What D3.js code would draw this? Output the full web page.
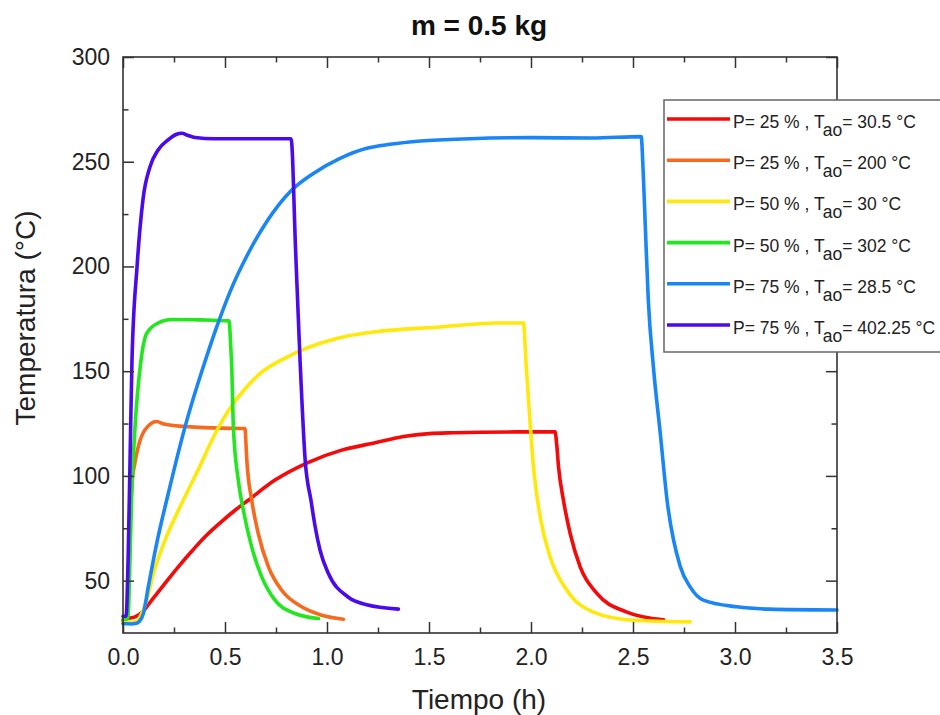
<!DOCTYPE html>
<html>
<head>
<meta charset="utf-8">
<script src="https://cdn.jsdelivr.net/npm/d3@7"></script>
<style>
  body { margin: 0; background: #fff; }
  svg { font-family: "Liberation Sans", Arial, sans-serif; }
</style>
</head>
<body>
<div id="chart"></div>
<script>
// time (h) / temperature (°C), one pair of arrays per run
var redT = [0, 0.03, 0.059, 0.1, 0.141, 0.2, 0.271, 0.337, 0.402, 0.475, 0.549, 0.614, 0.745, 0.909, 1.072, 1.236, 1.375, 1.5, 1.62, 1.93, 2.118, 2.126, 2.135, 2.159, 2.192, 2.241, 2.323, 2.47, 2.65];
var redY = [31, 32, 32.7, 35.5, 40.7, 48, 56.6, 64, 70.9, 77.5, 83.6, 88.4, 98, 106.5, 112.3, 115.8, 118.8, 120.2, 120.6, 121, 121, 115, 104.3, 88.4, 72.5, 56.6, 43.9, 35, 31.3];

var orangeT = [0, 0.02, 0.03, 0.036, 0.043, 0.058, 0.075, 0.108, 0.165, 0.2, 0.239, 0.35, 0.48, 0.598, 0.603, 0.607, 0.631, 0.663, 0.713, 0.778, 0.876, 0.974, 1.08];
var orangeY = [31, 32, 55, 80, 95, 106, 114, 122, 126, 124.8, 124.2, 123.3, 122.8, 122.6, 115, 107.5, 88.4, 72.5, 56.6, 45.4, 37.5, 33.5, 31.6];

var yellowT = [0, 0.06, 0.085, 0.116, 0.149, 0.206, 0.288, 0.369, 0.451, 0.533, 0.598, 0.68, 0.78, 0.9, 1.0, 1.1, 1.236, 1.538, 1.833, 1.963, 1.975, 1.988, 2.012, 2.045, 2.094, 2.176, 2.306, 2.502, 2.78];
var yellowY = [30, 30.2, 33, 40.7, 53.4, 69.3, 86.9, 103, 120, 133.5, 141.5, 149.5, 155.5, 161, 164.3, 166.8, 168.8, 171, 173, 173, 155, 136, 104.3, 80.4, 61.3, 45.4, 35, 31.1, 30.3];

var greenT = [0, 0.025, 0.03, 0.034, 0.043, 0.059, 0.088, 0.116, 0.172, 0.239, 0.378, 0.52, 0.528, 0.533, 0.541, 0.565, 0.59, 0.631, 0.68, 0.745, 0.843, 0.958];
var greenY = [31.5, 32, 45, 59.8, 91.8, 123.4, 155, 168, 173, 174.7, 174.5, 174, 162, 152, 123.4, 98, 83.6, 66, 51.8, 40.7, 34.3, 31.9];

var blueT = [0, 0.04, 0.06, 0.08, 0.1, 0.124, 0.165, 0.222, 0.304, 0.41, 0.459, 0.525, 0.607, 0.705, 0.819, 0.933, 1.064, 1.195, 1.309, 1.46, 1.7, 2.0, 2.3, 2.54, 2.55, 2.56, 2.575, 2.6, 2.634, 2.667, 2.732, 2.78, 2.845, 3.01, 3.17, 3.5];
var blueY = [29.5, 29.3, 29.5, 30.5, 34.3, 47, 67.7, 91.6, 123.4, 157, 171, 188, 205, 221.5, 235.7, 244.4, 251.6, 256.4, 258.3, 259.9, 261, 261.5, 261.3, 262, 245, 220, 184, 152, 120, 88.4, 56.6, 47, 40.7, 37.5, 36.4, 36];

var purpleT = [0, 0.015, 0.025, 0.035, 0.044, 0.069, 0.098, 0.132, 0.172, 0.221, 0.26, 0.288, 0.32, 0.353, 0.45, 0.6, 0.75, 0.824, 0.846, 0.868, 0.893, 0.922, 0.942, 0.966, 1.007, 1.103, 1.195, 1.35];
var purpleY = [33, 33, 60, 110, 155, 200, 232, 247.5, 255.6, 260.4, 263, 263.6, 262.5, 261.6, 261, 261, 261, 261, 208, 155, 107.5, 88, 75.7, 64.5, 53.4, 42.2, 38.5, 36.4];

var seriesPower = ["25", "25", "50", "50", "75", "75"];
var seriesTao = ["30.5", "200", "30", "302", "28.5", "402.25"];
var seriesColors = ["#f50a0a", "#f7691c", "#ffe80a", "#22e61e", "#1a86f5", "#4a0aec"];
var seriesTimes = [redT, orangeT, yellowT, greenT, blueT, purpleT];
var seriesTemps = [redY, orangeY, yellowY, greenY, blueY, purpleY];

var xMajor = [0, 0.5, 1, 1.5, 2, 2.5, 3, 3.5];
var xMinor = [0.25, 0.75, 1.25, 1.75, 2.25, 2.75, 3.25];
var yMajor = [50, 100, 150, 200, 250, 300];
var yMinor = [75, 125, 175, 225, 275];

(function() {
  var W = 940, H = 715;
  var pl = 123, pr = 837, pt = 57, pb = 633;

  var svg = d3.select("#chart").append("svg")
    .attr("width", W).attr("height", H);

  var x = d3.scaleLinear().domain([0, 3.5]).range([pl, pr]);
  var y = d3.scaleLinear().domain([25, 300]).range([pb, pt]);

  // curves first, frame on top
  var line = d3.line()
    .x(function(d) { return x(d[0]); })
    .y(function(d) { return y(d[1]); })
    .curve(d3.curveMonotoneX);

  var plot = svg.append("g");
  seriesTimes.forEach(function(ts, i) {
    var pts = ts.map(function(t, j) { return [t, seriesTemps[i][j]]; });
    plot.append("path")
      .datum(pts)
      .attr("d", line)
      .attr("fill", "none")
      .attr("stroke", seriesColors[i])
      .attr("stroke-width", 3.6)
      .attr("stroke-linejoin", "round")
      .attr("stroke-linecap", "round");
  });

  function styleAxis(g) {
    g.select(".domain").remove();
    g.selectAll(".tick line").attr("stroke", "#333").attr("stroke-width", 1.5);
    g.selectAll("text").attr("fill", "#222").style("font-size", "23px")
      .style("font-family", "Liberation Sans, Arial, sans-serif");
  }

  // bottom
  svg.append("g").attr("transform", "translate(0," + pb + ")")
    .call(d3.axisBottom(x).tickValues(xMajor).tickSize(-11).tickPadding(16).tickFormat(d3.format(".1f")))
    .call(styleAxis);
  svg.append("g").attr("transform", "translate(0," + pb + ")")
    .call(d3.axisBottom(x).tickValues(xMinor).tickSize(-5.5).tickFormat(""))
    .call(styleAxis);
  // top
  svg.append("g").attr("transform", "translate(0," + pt + ")")
    .call(d3.axisTop(x).tickValues(xMajor).tickSize(-11).tickFormat(""))
    .call(styleAxis);
  svg.append("g").attr("transform", "translate(0," + pt + ")")
    .call(d3.axisTop(x).tickValues(xMinor).tickSize(-5.5).tickFormat(""))
    .call(styleAxis);
  // left
  svg.append("g").attr("transform", "translate(" + pl + ",0)")
    .call(d3.axisLeft(y).tickValues(yMajor).tickSize(-11).tickPadding(13))
    .call(styleAxis);
  svg.append("g").attr("transform", "translate(" + pl + ",0)")
    .call(d3.axisLeft(y).tickValues(yMinor).tickSize(-5.5).tickFormat(""))
    .call(styleAxis);
  // right
  svg.append("g").attr("transform", "translate(" + pr + ",0)")
    .call(d3.axisRight(y).tickValues(yMajor).tickSize(-11).tickFormat(""))
    .call(styleAxis);
  svg.append("g").attr("transform", "translate(" + pr + ",0)")
    .call(d3.axisRight(y).tickValues(yMinor).tickSize(-5.5).tickFormat(""))
    .call(styleAxis);

  svg.append("rect")
    .attr("x", pl).attr("y", pt)
    .attr("width", pr - pl).attr("height", pb - pt)
    .attr("fill", "none").attr("stroke", "#333").attr("stroke-width", 1.6);

  // titles
  svg.append("text")
    .attr("x", 479).attr("y", 35)
    .attr("text-anchor", "middle")
    .style("font-size", "28px").style("font-weight", "bold")
    .attr("fill", "#111")
    .text("m = 0.5 kg");

  svg.append("text")
    .attr("x", 479).attr("y", 709)
    .attr("text-anchor", "middle")
    .style("font-size", "28px").attr("fill", "#222")
    .text("Tiempo (h)");

  svg.append("text")
    .attr("transform", "translate(35,318) rotate(-90)")
    .attr("text-anchor", "middle")
    .style("font-size", "28px").attr("fill", "#222")
    .text("Temperatura (°C)");

  // legend
  var legend = svg.append("g");
  legend.append("rect")
    .attr("x", 664).attr("y", 100)
    .attr("width", 300).attr("height", 252)
    .attr("fill", "#fff").attr("stroke", "#666").attr("stroke-width", 1.5);

  seriesColors.forEach(function(c, i) {
    var ly = 119 + i * 41.2;
    legend.append("line")
      .attr("x1", 667).attr("x2", 730)
      .attr("y1", ly).attr("y2", ly)
      .attr("stroke", c).attr("stroke-width", 3.6);
    var t = legend.append("text")
      .attr("x", 733).attr("y", ly + 9)
      .style("font-size", "17.5px").attr("fill", "#222");
    t.append("tspan").text("P= " + seriesPower[i] + " % , T");
    t.append("tspan").attr("dy", 8).text("ao");
    t.append("tspan").attr("dy", -8).text("= " + seriesTao[i] + " °C");
  });
})();
</script>
</body>
</html>
